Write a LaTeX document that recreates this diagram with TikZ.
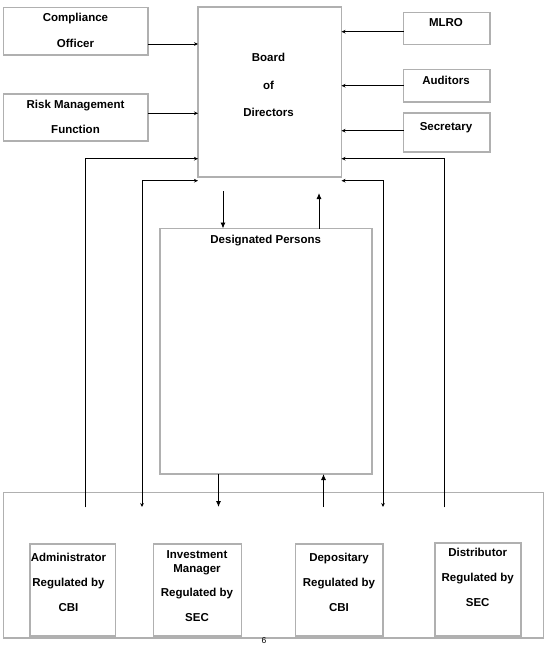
\documentclass[tikz,border=0pt]{standalone}
\usepackage{fontspec}
\setmainfont{Liberation Sans}
\usetikzlibrary{arrows.meta}
\definecolor{boxgray}{RGB}{176,176,176}
\tikzset{
  box/.style={draw=boxgray, line width=1.6pt, rectangle, inner sep=0pt, outer sep=0pt},
  lbl/.style={font=\bfseries\fontsize{11.5}{13}\selectfont, inner sep=0pt, text height=8.2pt, text depth=0pt},
  sarr/.style={line width=0.9pt, -{Stealth[length=4pt,width=3.6pt]}},
  darr/.style={line width=0.9pt, {Stealth[length=4pt,width=3.6pt]}-{Stealth[length=4pt,width=3.6pt]}},
  barr/.style={line width=0.9pt, -{Latex[length=6pt,width=5pt]}}
}
\begin{document}
\begin{tikzpicture}[x=1pt,y=-1pt]
\useasboundingbox[fill=white] (0,0) rectangle (547,645);
% boxes
\node[box, minimum width=144.3pt, minimum height=47.7pt] (comp) at (75.65,31.15) {};
\node[box, minimum width=144.3pt, minimum height=47pt] (risk) at (75.65,117.5) {};
\node[box, minimum width=143.5pt, minimum height=170pt] (board) at (269.75,91.7) {};
\node[box, minimum width=86.5pt, minimum height=32pt] (mlro) at (446.75,28.3) {};
\node[box, minimum width=86.5pt, minimum height=32.4pt] (aud) at (446.75,85.5) {};
\node[box, minimum width=86.5pt, minimum height=38.7pt] (sec) at (446.75,132.35) {};
\node[box, minimum width=212pt, minimum height=245.5pt] (desig) at (266,351.25) {};
\node[box, minimum width=540.1pt, minimum height=145.2pt] (bottom) at (273.55,565.1) {};
\node[box, minimum width=85.8pt, minimum height=92pt] (admin) at (72.7,590) {};
\node[box, minimum width=87.9pt, minimum height=92pt] (invest) at (197.35,590) {};
\node[box, minimum width=87.9pt, minimum height=92pt] (depo) at (339.25,590) {};
\node[box, minimum width=85.8pt, minimum height=93pt] (distr) at (477.9,589.5) {};
% texts
\node[lbl] (tcomp1) at (75.5,17) {Compliance};
\node[lbl] (tcomp2) at (75.5,43) {Officer};
\node[lbl] (trisk1) at (75.5,104) {Risk Management};
\node[lbl] (trisk2) at (75.5,129) {Function};
\node[lbl] (tb1) at (268.5,57.7) {Board};
\node[lbl] (tb2) at (268.5,85) {of};
\node[lbl] (tb3) at (268.5,112.7) {Directors};
\node[lbl] (tmlro) at (446,22.7) {MLRO};
\node[lbl] (taud) at (446,80) {Auditors};
\node[lbl] (tsec) at (446,126.7) {Secretary};
\node[lbl] (tdes) at (265.7,239) {Designated Persons};
\node[lbl] (ta1) at (68.5,557.7) {Administrator};
\node[lbl] (ta2) at (68.5,582.3) {Regulated by};
\node[lbl] (ta3) at (68.5,607.7) {CBI};
\node[lbl] (ti1) at (197,554) {Investment};
\node[lbl] (ti2) at (197,568.3) {Manager};
\node[lbl] (ti3) at (197,592.3) {Regulated by};
\node[lbl] (ti4) at (197,617.7) {SEC};
\node[lbl] (td1) at (339,557.7) {Depositary};
\node[lbl] (td2) at (339,582.3) {Regulated by};
\node[lbl] (td3) at (339,607.7) {CBI};
\node[lbl] (tt1) at (477.7,552.7) {Distributor};
\node[lbl] (tt2) at (477.7,577.7) {Regulated by};
\node[lbl] (tt3) at (477.7,602) {SEC};
\node[inner sep=0pt, font=\fontsize{8.5}{9}\selectfont] (page) at (264,640.5) {6};
% side arrows into the board
\draw[sarr] (comp.east |- 0,44) -- (board.west |- 0,44);
\draw[sarr] (risk.east |- 0,113.3) -- (board.west |- 0,113.3);
\draw[sarr] (mlro.west |- 0,31.7) -- (board.east |- 0,31.7);
\draw[sarr] (aud.west |- 0,85.7) -- (board.east |- 0,85.7);
\draw[sarr] (sec.west |- 0,130.7) -- (board.east |- 0,130.7);
% loops from the bottom box
\coordinate (oL) at (85,507.3);
\coordinate (iL) at (142,507);
\coordinate (iR) at (383,507);
\coordinate (oR) at (444,507.3);
\draw[sarr] (oL) |- (board.west |- 0,158.7);
\draw[darr] (board.west |- 0,180.7) -| (iL);
\draw[darr] (board.east |- 0,180.7) -| (iR);
\draw[sarr] (oR) |- (board.east |- 0,158.7);
% board <-> designated persons
\coordinate (bd) at (223,191);
\coordinate (bu) at (319,193);
\draw[barr] (bd) -- (bd |- desig.north);
\draw[barr] (bu |- desig.north) -- (bu);
% designated persons <-> bottom
\coordinate (dd) at (218.5,507);
\coordinate (du) at (323.5,507);
\draw[barr] (dd |- desig.south) -- (dd);
\draw[barr] (du) -- (du |- desig.south);
\end{tikzpicture}
\end{document}
